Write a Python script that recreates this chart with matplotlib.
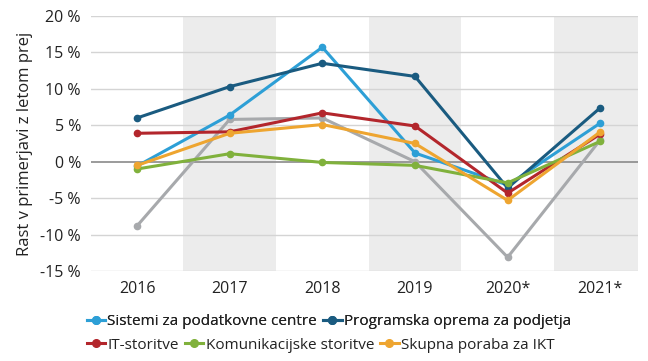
import numpy as np
import matplotlib.pyplot as plt
from matplotlib.lines import Line2D

# data
years = ['2016', '2017', '2018', '2019', '2020*', '2021*']
sistemi = [-0.6, 6.4, 15.7, 1.2, -3.2, 5.3]
programska = [6.0, 10.3, 13.5, 11.7, -3.6, 7.4]
it_storitve = [3.9, 4.1, 6.7, 4.9, -4.3, 3.8]
komunikacijske = [-1.0, 1.1, -0.1, -0.5, -2.9, 2.8]
skupna = [-0.5, 3.9, 5.1, 2.5, -5.3, 4.1]
ostalo = [-8.8, 5.8, 6.0, 0.0, -13.1, 3.0]

yticks = [20, 15, 10, 5, 0, -5, -10, -15]

series = [
    ('Sistemi za podatkovne centre', sistemi, '#2d9fd6'),
    ('Programska oprema za podjetja', programska, '#1a5b80'),
    ('IT-storitve', it_storitve, '#b3262c'),
    ('Komunikacijske storitve', komunikacijske, '#80b13c'),
    ('Skupna poraba za IKT', skupna, '#eea530'),
]
gray = '#a7a9ac'

plt.rcParams['font.family'] = ['Open Sans', 'DejaVu Sans']

fig = plt.figure(figsize=(6.48, 3.61), dpi=100)
ax = fig.add_axes([0.140, 0.249, 0.845, 0.707])

x = np.arange(len(years))

# alternating shaded bands
for i in x:
    if i % 2 == 1:
        ax.axvspan(i - 0.5, i + 0.5, color='#ececec', lw=0, zorder=0)

for t in yticks:
    if t == 0:
        ax.axhline(t, color='#8a8a8a', lw=1.2, zorder=1)
    else:
        ax.axhline(t, color='#d4d4d4', lw=1.0, zorder=1)

ax.plot(x, ostalo, color=gray, lw=2.2, marker='o', ms=4.5, zorder=2)
for name, vals, col in series:
    ax.plot(x, vals, color=col, lw=2.2, marker='o', ms=4.5, zorder=3)

ax.set_xlim(-0.5, 5.41)
ax.set_ylim(-15, 20)
ax.set_xticks(x)
ax.set_xticklabels(years, fontsize=11.5, color='#222222')
ax.set_yticks(yticks)
ax.set_yticklabels(['%d %%' % t for t in yticks], fontsize=11.5, color='#222222')
ax.tick_params(length=0, pad=7)
ax.tick_params(axis='x', pad=7)
for s in ax.spines.values():
    s.set_visible(False)
ax.set_ylabel('Rast v primerjavi z letom prej', fontsize=12, color='#222222', labelpad=5)

handles = [Line2D([0], [0], color=c, lw=2.2, marker='o', ms=5.5) for _, _, c in series]
labels = [n for n, _, _ in series]

leg1 = fig.legend(handles[:2], labels[:2], ncol=2, loc='center left',
                  bbox_to_anchor=(0.134, 0.109), frameon=False, fontsize=11,
                  handlelength=1.2, handletextpad=0.15, columnspacing=0.4,
                  borderaxespad=0, borderpad=0)
leg2 = fig.legend(handles[2:], labels[2:], ncol=3, loc='center left',
                  bbox_to_anchor=(0.134, 0.044), frameon=False, fontsize=11,
                  handlelength=1.2, handletextpad=0.15, columnspacing=0.4,
                  borderaxespad=0, borderpad=0)
fig.add_artist(leg1)
for t in leg1.get_texts() + leg2.get_texts():
    t.set_color('#222222')

fig.savefig('out.png', dpi=100)
